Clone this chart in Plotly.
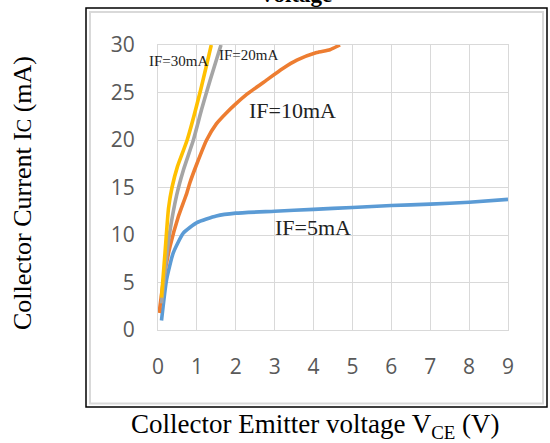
import plotly.graph_objects as go

# ---- data ----
vce_5 = [0.09, 0.22, 0.39, 0.65, 1.0, 1.5, 2.0, 3.0, 4.0, 5.0, 6.0, 7.0, 8.0, 9.0]
ic_5 = [1.0, 5.3, 8.1, 10.2, 11.3, 12.0, 12.3, 12.5, 12.7, 12.9, 13.1, 13.25, 13.45, 13.75]

vce_10 = [0.03, 0.15, 0.31, 0.52, 0.74, 0.82, 1.0, 1.25, 1.5, 1.77, 2.0, 2.28, 2.79, 3.2, 3.57, 4.08, 4.42, 4.68]
ic_10 = [1.8, 5.5, 8.8, 11.9, 14.4, 15.5, 17.5, 20.0, 21.7, 22.9, 23.8, 24.8, 26.3, 27.5, 28.4, 29.2, 29.5, 30.0]

vce_20 = [0.09, 0.2, 0.31, 0.48, 0.65, 0.91, 1.12, 1.34, 1.62]
ic_20 = [2.8, 7.0, 10.5, 14.2, 16.8, 20.0, 23.2, 26.3, 30.0]

vce_30 = [0.09, 0.18, 0.27, 0.36, 0.5, 0.75, 1.08, 1.37]
ic_30 = [3.4, 8.1, 12.8, 15.0, 17.2, 20.0, 25.0, 30.0]

series_names = ["IF=5mA", "IF=10mA", "IF=20mA", "IF=30mA"]
series_colors = ["#5B9BD5", "#ED7D31", "#A5A5A5", "#FFC000"]

x_ticks = [0, 1, 2, 3, 4, 5, 6, 7, 8, 9]
y_ticks = [0, 5, 10, 15, 20, 25, 30]

# ---- layout geometry (pixels) ----
W, H = 550, 443
L, R, T, B = 158, 508, 45, 330


def px(xp):
    return (xp - L) / (R - L)


def py(yp):
    return (B - yp) / (B - T)


fig = go.Figure()
for xs, ys, name, col in zip([vce_5, vce_10, vce_20, vce_30],
                             [ic_5, ic_10, ic_20, ic_30],
                             series_names, series_colors):
    fig.add_trace(go.Scatter(x=xs, y=ys, name=name, mode="lines",
                             line=dict(color=col, width=3.6, shape="spline", smoothing=0.5),
                             showlegend=False))

serif = "Liberation Serif"
tickfont = dict(family="Open Sans", size=21, color="#595959")

fig.update_layout(
    width=W, height=H,
    margin=dict(l=L, r=W - R, t=T, b=H - B, pad=0),
    paper_bgcolor="white", plot_bgcolor="white",
    xaxis=dict(range=[0, 9], tickvals=x_ticks, showgrid=True, gridcolor="#D9D9D9", gridwidth=1,
               zeroline=False, showline=True, linecolor="#D9D9D9", linewidth=1, mirror=True,
               tickfont=tickfont, ticks="", ticklabelstandoff=18, fixedrange=True),
    yaxis=dict(range=[0, 30], tickvals=y_ticks, showgrid=True, gridcolor="#D9D9D9", gridwidth=1,
               zeroline=False, showline=True, linecolor="#D9D9D9", linewidth=1, mirror=True,
               tickfont=tickfont, ticks="", ticklabelstandoff=18, fixedrange=True),
)

# frame: outer black border and inner light border
fig.add_shape(type="rect", xref="paper", yref="paper",
              x0=px(86), x1=px(547), y0=py(407), y1=py(8),
              line=dict(color="black", width=1.5), layer="below")
fig.add_shape(type="rect", xref="paper", yref="paper",
              x0=px(90), x1=px(543), y0=py(403.5), y1=py(12),
              line=dict(color="#D9D9D9", width=2), layer="below")


def label(xp, yp, text, size, angle=0, color="#222222"):
    fig.add_annotation(x=px(xp), y=py(yp), xref="paper", yref="paper", text=text,
                       xanchor="center", yanchor="middle", textangle=angle,
                       showarrow=False, font=dict(family=serif, size=size, color=color))


# series labels
label(178, 61, "IF=30mA", 15)
label(248, 55, "IF=20mA", 15)
label(292, 110, "IF=10mA", 22)
label(313, 227, "IF=5mA", 22)

# (clipped) chart title
label(295, -6, "<b>Voltage</b>", 23, color="black")

# axis titles
label(315, 426, "Collector Emitter voltage V<sub>CE</sub> (V)", 27, color="black")
label(22, 193, "Collector Current I<span style='font-size:20px'>C</span> (mA)", 26,
      angle=-90, color="black")

fig.write_html("out.html", config={"displayModeBar": False},
               post_script="document.body.style.margin='0';")
